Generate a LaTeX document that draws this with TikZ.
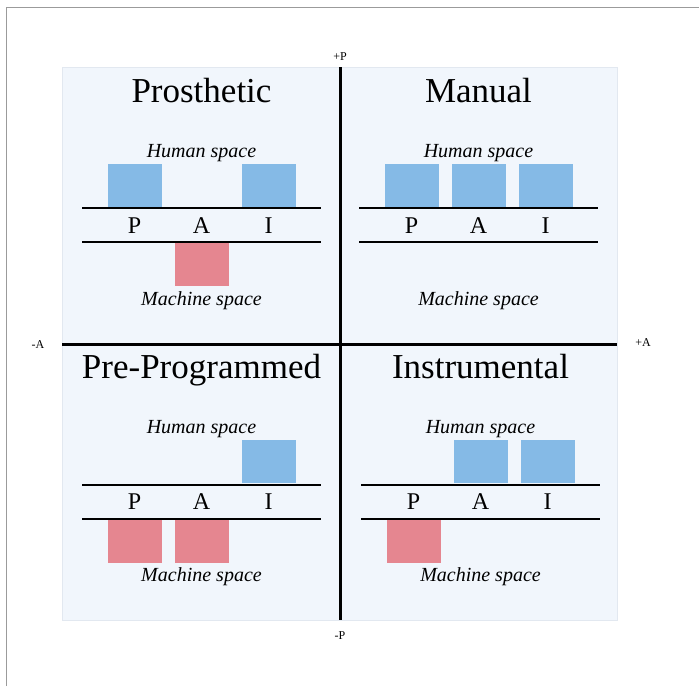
\documentclass[tikz,border=0pt]{standalone}
\usepackage{fontspec}
\setmainfont{Liberation Serif}
\definecolor{panelbg}{RGB}{241,246,252}
\definecolor{paneledge}{RGB}{226,232,240}
\definecolor{hblue}{RGB}{133,186,230}
\definecolor{mred}{RGB}{229,134,144}
\definecolor{framegrey}{RGB}{155,155,155}
\tikzset{
  titletext/.style={font=\fontsize{35}{40}\selectfont, anchor=base, inner sep=0pt},
  spacetext/.style={font=\itshape\fontsize{20}{24}\selectfont, anchor=base, inner sep=0pt},
  letter/.style={font=\fontsize{24}{28}\selectfont, anchor=base, inner sep=0pt},
  axislabel/.style={font=\fontsize{12}{14}\selectfont, inner sep=0pt},
  rail/.style={line width=2pt, black},
  axisline/.style={line width=3pt, black},
  hbox/.style={fill=hblue, draw=none, minimum width=54pt, minimum height=43pt, inner sep=0pt, anchor=south},
  mbox/.style={fill=mred, draw=none, minimum width=54pt, minimum height=43pt, inner sep=0pt, anchor=north},
}
% #1 prefix, #2 centre x, #3 vertical offset, #4 title
\newcommand{\paiquad}[4]{%
  \begin{scope}[shift={(#2,#3)}]
    \node[titletext] (#1-title) at (0,102) {#4};
    \node[spacetext] (#1-human) at (0,157) {Human space};
    \coordinate (#1-ul) at (-119.5,208);
    \coordinate (#1-ur) at (119.5,208);
    \coordinate (#1-ll) at (-119.5,242);
    \coordinate (#1-lr) at (119.5,242);
    \draw[rail] (#1-ul) -- (#1-ur);
    \draw[rail] (#1-ll) -- (#1-lr);
    \node[letter] (#1-P) at (-67,233) {P};
    \node[letter] (#1-A) at (0,233) {A};
    \node[letter] (#1-I) at (67,233) {I};
    \node[spacetext] (#1-machine) at (0,305) {Machine space};
    \coordinate (#1-hP) at (-67,207);
    \coordinate (#1-hA) at (0,207);
    \coordinate (#1-hI) at (67,207);
    \coordinate (#1-mP) at (-67,243);
    \coordinate (#1-mA) at (0,243);
    \coordinate (#1-mI) at (67,243);
  \end{scope}}
\begin{document}
\begin{tikzpicture}[x=1pt,y=-1pt]
  \useasboundingbox (0,0) rectangle (699,686);
  \fill[white] (0,0) rectangle (699,686);
  % outer frame (top and left edges visible)
  \draw[framegrey, line width=1.8pt] (6.5,686) -- (6.5,7.5) -- (699,7.5);
  % panel
  \fill[panelbg, draw=paneledge, line width=0.6pt] (62,67) rectangle (617,620);

  % quadrants
  \paiquad{pr}{201.5}{0}{Prosthetic}
  \paiquad{ma}{478.5}{0}{Manual}
  \paiquad{pp}{201.5}{276.5}{Pre-Programmed}
  \paiquad{in}{480.5}{276.5}{Instrumental}

  % Prosthetic boxes
  \node[hbox] (pr-bP) at (pr-hP) {};
  \node[hbox] (pr-bI) at (pr-hI) {};
  \node[mbox] (pr-bA) at (pr-mA) {};
  % Manual boxes
  \node[hbox] (ma-bP) at (ma-hP) {};
  \node[hbox] (ma-bA) at (ma-hA) {};
  \node[hbox] (ma-bI) at (ma-hI) {};
  % Pre-Programmed boxes
  \node[hbox] (pp-bI) at (pp-hI) {};
  \node[mbox] (pp-bP) at (pp-mP) {};
  \node[mbox] (pp-bA) at (pp-mA) {};
  % Instrumental boxes
  \node[hbox] (in-bA) at (in-hA) {};
  \node[hbox] (in-bI) at (in-hI) {};
  \node[mbox] (in-bP) at (in-mP) {};

  % axes
  \coordinate (vtop) at (340,67);
  \coordinate (vbot) at (340,620);
  \coordinate (hleft) at (62,344);
  \coordinate (hright) at (617,344);
  \draw[axisline] (vtop) -- (vbot);
  \draw[axisline] (hleft) -- (hright);
  \node[axislabel] (plusP) at (340,57) {+P};
  \node[axislabel] (minusP) at (340,636) {-P};
  \node[axislabel] (minusA) at (38,345) {-A};
  \node[axislabel] (plusA) at (643,343) {+A};
\end{tikzpicture}
\end{document}
